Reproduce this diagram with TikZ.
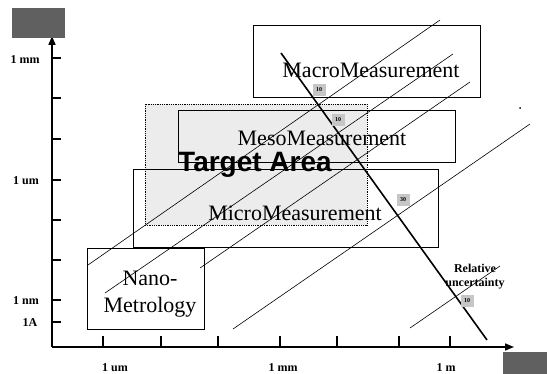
\documentclass[tikz,border=0pt]{standalone}
\usepackage{fontspec}
\setmainfont{Liberation Serif}
\newfontfamily\headfont{Liberation Sans}
\usetikzlibrary{arrows.meta}
\usetikzlibrary{positioning}
\tikzset{
    areabox/.style = {rectangle, draw=black, thick, inner sep=0pt},
    areatext/.style = {font=\fontsize{22}{22}\selectfont, inner sep=0pt},
    axtext/.style = {font=\fontsize{12}{12}\selectfont\bfseries, inner sep=0pt},
    tagbox/.style = {rectangle, fill=gray!45, inner sep=1pt, minimum width=13, minimum height=12, font=\fontsize{6}{6}\selectfont\bfseries},
    darkbox/.style = {rectangle, fill=gray!75!black, inner sep=0pt},
}
\begin{document}
\begin{tikzpicture}[
	x=1pt, y=-1pt,
	thick
]
\tikzset{
    axisline/.style = {-{Triangle[length=9pt,width=7pt]}, line width=1.6pt},
    tickline/.style = {line width=1.2pt},
    thinline/.style = {-, line width=0.6pt},
    heavyline/.style = {-, line width=1.6pt},
}
\useasboundingbox (0,0) rectangle (547,374);
% target area
\node[areabox, fill=gray!15, densely dotted, minimum width=222, minimum height=121] at (256,164.5) (target) {};
% boxes
\node[areabox, minimum width=227, minimum height=72] at (366.5,61) (macro) {};
\node[areabox, minimum width=277, minimum height=52] at (316.5,136) (meso) {};
\node[areabox, minimum width=305, minimum height=78] at (285.5,208) (micro) {};
\node[areabox, minimum width=117, minimum height=81] at (145.5,288.5) (nano) {};
%
\node[areatext] at (371,70) (macrot) {MacroMeasurement};
\node[areatext] at (322,138) (mesot) {MesoMeasurement};
\node[areatext] at (295,213) (microt) {MicroMeasurement};
\node[areatext, align=center, font=\fontsize{22}{27}\selectfont] at (150,294) (nanot) {Nano-\\Metrology};
\node[inner sep=0pt, font=\headfont\fontsize{28}{28}\selectfont\bfseries] at (255,165) (targett) {Target Area};
% axes
\coordinate (o) at (52,347);
\coordinate (ytop) at (52,36);
\coordinate (xend) at (514,347);
\draw[axisline] (o) -- (ytop);
\draw[axisline] (o) -- (xend);
\foreach \yy in {58,98,139,180,220,260,300,322}
    \draw[tickline] (52,\yy) -- (61,\yy);
\foreach \xx in {103,161,218,280,337,399,450}
    \draw[tickline] (\xx,347) -- (\xx,336);
\node[axtext] at (25,60) (ymm) {1 mm};
\node[axtext] at (26,181) (yum) {1 um};
\node[axtext] at (26,301) (ynm) {1 nm};
\node[axtext] at (30,323) (ya) {1A};
\node[axtext] at (115,368) (xum) {1 um};
\node[axtext] at (283,368) (xmm) {1 mm};
\node[axtext] at (446,368) (xm) {1 m};
\node[darkbox, minimum width=53, minimum height=30] at (38.5,23) (ylab) {};
\node[darkbox, minimum width=44, minimum height=22] at (525,363) (xlab) {};
% uncertainty lines
\coordinate (l1a) at (88,265);  \coordinate (l1b) at (440,20);
\coordinate (l2a) at (105,293); \coordinate (l2b) at (453,54);
\coordinate (l3a) at (200,268); \coordinate (l3b) at (470,82);
\coordinate (l4a) at (233,329); \coordinate (l4b) at (530,124);
\coordinate (l5a) at (410,328); \coordinate (l5b) at (500,266);
\foreach \i in {1,...,5}
    \draw[thinline] (l\i a) -- (l\i b);
\coordinate (ha) at (281,53);
\coordinate (hb) at (487,340);
\draw[heavyline] (ha) -- (hb);
% tags
\node[tagbox] at (319,90) (tag1) {10};
\node[tagbox] at (338,120) (tag2) {10};
\node[tagbox] at (403,200) (tag3) {30};
\node[tagbox] at (467,301) (tag4) {10};
\node[inner sep=0pt, align=center, font=\fontsize{12}{14}\selectfont\bfseries] at (475,277) (relt) {Relative\\uncertainty};
\fill (520,108) circle (1);
\end{tikzpicture}
\end{document}
